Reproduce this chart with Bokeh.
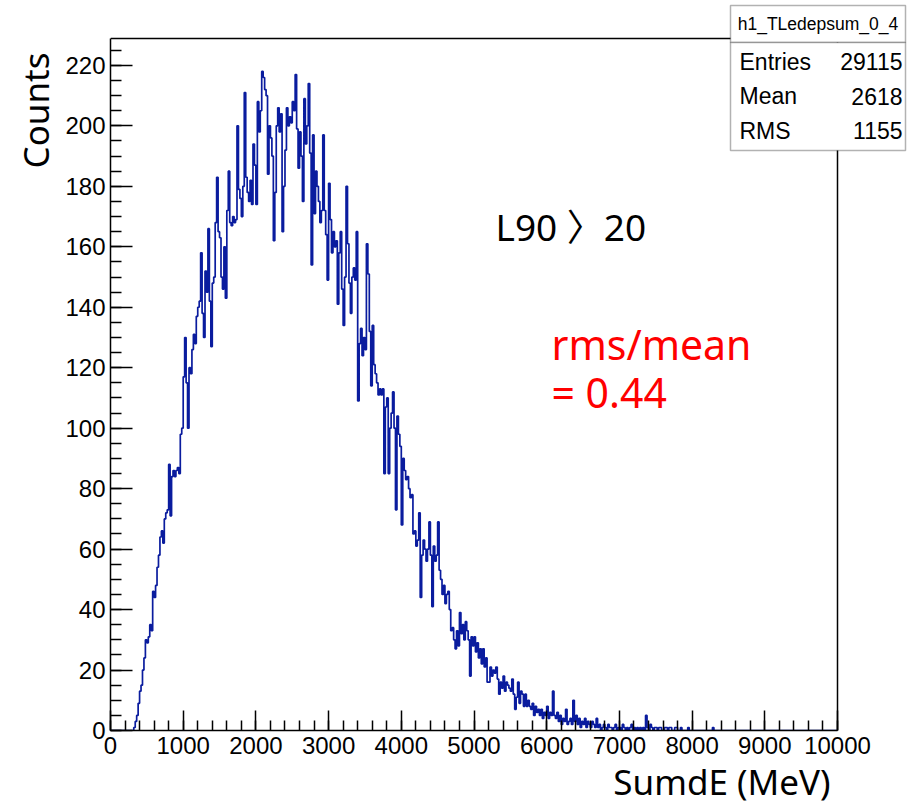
import numpy as np
from bokeh.plotting import figure
from bokeh.models import Range1d, SingleIntervalTicker, Label, BoxAnnotation, Title
from bokeh.embed import file_html
from bokeh.resources import INLINE

# ---------------- data ----------------
hist_name = "h1_TLedepsum_0_4"
x_title = "SumdE (MeV)"
y_title = "Counts"
stats_names = ["Entries", "Mean", "RMS"]
stats_values = ["29115", "2618", "1155"]
cut_note = "L90 〉20"
ratio_lines = ["rms/mean", "= 0.44"]

bin_width = 20          # MeV
first_edge = 300        # MeV, left edge of first listed bin
x_min, x_max = 0, 10000
y_min, y_max = 0, 228.9

counts = [
    0, 1, 3, 5, 9, 13, 15, 20, 24, 30,                 # 300
    29, 31, 35, 33, 46, 44, 48, 54, 58, 64,            # 500
    66, 62, 70, 72, 73, 88, 71, 84, 86, 84,            # 700
    86, 87, 85, 98, 100, 117, 130, 115, 100, 120,      # 900
    118, 126, 131, 128, 137, 140, 142, 158, 138, 130,  # 1100
    152, 145, 166, 142, 127, 148, 150, 168, 183, 165,  # 1300
    163, 150, 146, 160, 143, 172, 185, 168, 167, 170,  # 1500
    168, 169, 200, 179, 176, 170, 180, 211, 183, 178,  # 1700
    175, 182, 174, 194, 187, 174, 208, 198, 205, 218,  # 1900
    216, 212, 210, 184, 200, 196, 190, 162, 178, 200,  # 2100
    206, 198, 204, 165, 180, 192, 206, 200, 203, 201,  # 2300
    208, 205, 217, 199, 186, 198, 190, 175, 209, 194,  # 2500
    200, 214, 191, 154, 197, 171, 185, 180, 175, 168,  # 2700
    172, 197, 172, 164, 149, 181, 169, 158, 165, 160,  # 2900
    162, 141, 158, 165, 146, 134, 150, 180, 161, 148,  # 3100
    138, 150, 153, 149, 165, 109, 128, 133, 124, 130,  # 3300
    126, 161, 151, 132, 114, 134, 121, 118, 115, 111,  # 3500
    113, 111, 113, 85, 107, 110, 85, 100, 105, 112,    # 3700
    100, 73, 104, 98, 94, 68, 90, 86, 83, 84,          # 3900
    80, 77, 78, 65, 66, 61, 63, 72, 44, 58,            # 4100
    63, 60, 56, 60, 69, 58, 41, 61, 56, 58,            # 4300
    69, 53, 50, 45, 48, 42, 45, 46, 40, 33,            # 4500
    34, 30, 27, 33, 28, 39, 32, 35, 30, 36,            # 4700
    33, 30, 18, 31, 28, 31, 26, 29, 24, 27,            # 4900
    22, 27, 21, 24, 16, 16, 21, 18, 20, 19,            # 5100
    21, 17, 12, 16, 14, 18, 13, 16, 15, 14,            # 5300
    13, 17, 12, 7, 11, 16, 9, 13, 12, 8,               # 5500
    12, 8, 10, 8, 7, 9, 5, 8, 6, 7,                    # 5700
    5, 7, 4, 6, 5, 8, 4, 6, 5, 13,                     # 5900
    5, 4, 6, 3, 5, 2, 4, 3, 7, 2,                      # 6100
    3, 4, 2, 10, 3, 5, 2, 4, 1, 3,                     # 6300
    2, 4, 1, 3, 2, 1, 3, 2, 1, 4,                      # 6500
    1, 2, 0, 1, 2, 1, 0, 2, 1, 1,                      # 6700
    0, 1, 2, 0, 1, 1, 0, 2, 1, 0,                      # 6900
    1, 0, 1, 2, 0, 1, 0, 1, 0, 1,                      # 7100
    0, 1, 0, 5, 1, 0, 2, 1, 0, 1,                      # 7300
    1, 0, 1, 1, 0, 0, 1, 1, 0, 1,                      # 7500
    1, 0, 0, 1, 1, 0, 0, 1, 0, 0,                      # 7700
    0, 0, 1, 0, 0, 0, 0, 0, 0, 0,                      # 7900
    0, 0, 0, 0, 0, 0, 0, 0, 0, 1,                      # 8100
    0,                                                 # 8300
]

# ---------------- layout ----------------
W, H = 914, 807
AX_L, AX_R, AX_T, AX_B = 110, 837, 38, 730   # histogram axes box, canvas px
FR_R, FR_T = 908, 3                          # plotting frame extends under stats box

sx_scale = (x_max - x_min) / (AX_R - AX_L)
sy_scale = (y_max - y_min) / (AX_B - AX_T)


def dx(px):
    return x_min + (px - AX_L) * sx_scale


def dy(py):
    return y_min + (AX_B - py) * sy_scale


p = figure(width=W, height=H, output_backend="svg", toolbar_location=None,
           x_range=Range1d(x_min, dx(FR_R)), y_range=Range1d(y_min, dy(FR_T)),
           min_border_left=AX_L, min_border_right=W - FR_R,
           min_border_top=FR_T, min_border_bottom=H - AX_B)
p.background_fill_color = "white"
p.border_fill_color = "white"
p.outline_line_color = None
p.xgrid.visible = False
p.ygrid.visible = False

p.xaxis.ticker = SingleIntervalTicker(interval=1000, num_minor_ticks=5)
p.yaxis.ticker = SingleIntervalTicker(interval=20, num_minor_ticks=4)
p.xaxis.bounds = (x_min, x_max)
p.yaxis.bounds = (y_min, y_max)
for ax in (p.xaxis, p.yaxis):
    ax.axis_line_color = "black"
    ax.axis_line_width = 1.5
    ax.major_tick_line_color = "black"
    ax.minor_tick_line_color = "black"
    ax.major_tick_line_width = 1.5
    ax.minor_tick_line_width = 1.5
    ax.major_tick_out = 0
    ax.minor_tick_out = 0
    ax.major_label_text_font = "Liberation Sans"
    ax.major_label_text_font_size = "24px"
    ax.major_label_text_color = "black"
p.xaxis.major_tick_in = 20
p.xaxis.minor_tick_in = 10
p.yaxis.major_tick_in = 22
p.yaxis.minor_tick_in = 11
p.xaxis.major_label_standoff = 6
p.yaxis.major_label_standoff = 5

# axis titles (ROOT style: at the far end of each axis)
p.add_layout(Title(text=y_title, align="right", vertical_align="middle",
                   offset=52 - FR_T, standoff=6,
                   text_font="Noto Sans", text_font_style="normal",
                   text_font_size="35px", text_color="black"), "left")
p.add_layout(Title(text=x_title, align="right", vertical_align="middle",
                   offset=FR_R - 830, standoff=0,
                   text_font="Noto Sans", text_font_style="normal",
                   text_font_size="35px", text_color="black"), "below")

# frame edges of the histogram box (top and right)
p.segment(x0=[x_min, x_max], y0=[y_max, y_min], x1=[x_max, x_max], y1=[y_max, y_max],
          line_color="black", line_width=1.5)

# ---------------- histogram outline ----------------
edges = first_edge + bin_width * np.arange(len(counts) + 1)
xs = np.concatenate([[x_min], edges, [x_max]])
ys = np.concatenate([[0], counts, [0, 0]])
p.step(x=xs, y=ys, mode="after", line_color="#0a1c9e", line_width=1.7)

# ---------------- notes ----------------
txt_font = "Noto Sans, Noto Sans CJK KR"
p.add_layout(Label(x=dx(495), y=dy(226), text=cut_note,
                   text_align="left", text_baseline="middle",
                   text_font=txt_font, text_font_size="37px", text_color="black"))
for i, line in enumerate(ratio_lines):
    p.add_layout(Label(x=dx(551), y=dy(343 + 48 * i), text=line,
                       text_align="left", text_baseline="middle",
                       text_font=txt_font, text_font_size="41px", text_color="#ff0000"))

# ---------------- stats box ----------------
BX_L, BX_R, BX_T, BX_M, BX_B = 730, 905, 5, 42, 150
p.add_layout(BoxAnnotation(left=dx(BX_L), right=dx(BX_R), top=dy(BX_T), bottom=dy(BX_M),
                           fill_color="white", fill_alpha=1.0,
                           line_color="black", line_width=1.5, level="overlay"))
p.add_layout(BoxAnnotation(left=dx(BX_L), right=dx(BX_R), top=dy(BX_M), bottom=dy(BX_B),
                           fill_color="white", fill_alpha=1.0,
                           line_color="black", line_width=1.5, level="overlay"))
p.add_layout(Label(x=dx((BX_L + BX_R) / 2), y=dy(23), text=hist_name,
                   text_align="center", text_baseline="middle",
                   text_font="Liberation Sans", text_font_size="17.5px",
                   text_color="black", level="overlay"))
for i, (n, v) in enumerate(zip(stats_names, stats_values)):
    yy = dy(61 + 34.5 * i)
    p.add_layout(Label(x=dx(739), y=yy, text=n, text_align="left",
                       text_baseline="middle", text_font="Liberation Sans",
                       text_font_size="23px", text_color="black", level="overlay"))
    p.add_layout(Label(x=dx(902), y=yy, text=v, text_align="right",
                       text_baseline="middle", text_font="Liberation Sans",
                       text_font_size="23px", text_color="black", level="overlay"))

open("out.html", "w").write(file_html(p, INLINE))
